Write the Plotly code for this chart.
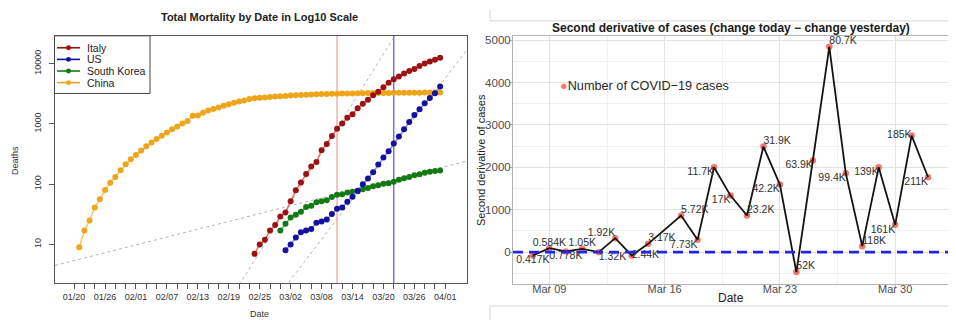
import pandas as pd
import numpy as np
import plotly.graph_objects as go

# ---------------- data: left panel (cumulative deaths, log scale) ----------------
china_start = "2020-01-21"
china_deaths = [9, 17, 25, 41, 56, 80, 106, 132, 170, 213, 259, 304, 361, 425, 490, 563, 636, 722,
                811, 908, 1016, 1113, 1367, 1380, 1523, 1665, 1770, 1868, 2004, 2118, 2236, 2345,
                2442, 2592, 2663, 2715, 2744, 2788, 2835, 2870, 2912, 2943, 2981, 3012, 3042, 3070,
                3097, 3119, 3136, 3158, 3169, 3176, 3189, 3199, 3213, 3226, 3237, 3245, 3248, 3255,
                3261, 3270, 3277, 3281, 3287, 3292, 3295, 3300, 3304, 3305, 3312]
italy_start = "2020-02-24"
italy_deaths = [7, 10, 12, 17, 21, 29, 34, 52, 79, 107, 148, 197, 233, 366, 463, 631, 827, 1016,
                1266, 1441, 1809, 2158, 2503, 2978, 3405, 4032, 4825, 5476, 6077, 6820, 7503, 8165,
                9134, 10023, 10779, 11591, 12428]
us_start = "2020-03-01"
us_deaths = [8, 10, 13, 16, 17, 18, 23, 24, 26, 32, 39, 41, 51, 62, 78, 100, 124, 158, 212, 278,
             352, 472, 615, 812, 1075, 1400, 1750, 2200, 2680, 3220, 4150]
korea_start = "2020-02-29"
korea_deaths = [17, 22, 28, 31, 35, 42, 44, 50, 52, 54, 61, 67, 68, 73, 75, 76, 82, 86, 92, 96, 102,
                104, 110, 118, 125, 131, 140, 146, 155, 161, 165, 169]

event_dates = ["2020-03-11", "2020-03-22"]
# guide lines: anchor date, value at anchor, doubling time (days)
guide_anchor_dates = ["2020-01-20", "2020-02-22", "2020-03-02"]
guide_anchor_values = [5.4, 2.9, 2.6]
guide_doubling_days = [13.9, 2.2, 2.7]

left_tick_dates = list(pd.date_range("2020-01-20", "2020-04-01", freq="2D"))
left_tick_labels = ["01/20", "01/26", "02/01", "02/07", "02/13", "02/19", "02/25",
                    "03/02", "03/08", "03/14", "03/20", "03/26", "04/01"]
log_tick_values = [10, 100, 1000, 10000]

# ---------------- data: right panel (second derivative of cases) ----------------
deriv_dates = ["2020-03-08", "2020-03-09", "2020-03-10", "2020-03-11", "2020-03-12", "2020-03-13",
               "2020-03-14", "2020-03-15", "2020-03-17", "2020-03-18", "2020-03-19", "2020-03-20",
               "2020-03-21", "2020-03-22", "2020-03-23", "2020-03-24", "2020-03-25", "2020-03-26",
               "2020-03-27", "2020-03-28", "2020-03-29", "2020-03-30", "2020-03-31", "2020-04-01"]
deriv_values = [-78, 94, 16, 78, 0, 330, -78, 196, 863, 290, 2000, 1333, 863, 2490, 1592, -470,
                2161, 4843, 1859, 141, 2000, 643, 2749, 1765]
case_labels = ["0.417K", "0.584K", "0.778K", "1.05K", "1.32K", "1.92K", "2.44K", "3.17K", "5.72K",
               "7.73K", "11.7K", "17K", "23.2K", "31.9K", "42.2K", "52K", "63.9K", "80.7K",
               "99.4K", "118K", "139K", "161K", "185K", "211K"]
right_tick_dates = ["2020-03-09", "2020-03-16", "2020-03-23", "2020-03-30"]
right_tick_labels = ["Mar 09", "Mar 16", "Mar 23", "Mar 30"]
zero_level = 0

# ---------------- styling ----------------
# the page body has an 8px margin, so the figure is 8px smaller and all
# positions below are given in window pixels and shifted by that margin
PAGE_MARGIN = 8
W, H = 956 - PAGE_MARGIN, 320 - PAGE_MARGIN
FONT = "Liberation Sans, Arial, sans-serif"


def px(x):
    return (x - PAGE_MARGIN) / W


def py(y):
    return 1 - (y - PAGE_MARGIN) / H


label_positions = ["bottom center", "top center", "bottom center", "top center", "bottom right",
                   "top left", "middle right", "top right", "top right", "bottom left",
                   "bottom left", "bottom left", "top right", "top right", "bottom left",
                   "top right", "bottom left", "top right", "bottom left", "top right",
                   "bottom left", "bottom left", "middle left", "bottom left"]

left_range = [pd.Timestamp("2020-01-16 07:00"), pd.Timestamp("2020-04-05 05:00")]

fig = go.Figure()

# guide lines
for d0, v0, dbl in zip(guide_anchor_dates, guide_anchor_values, guide_doubling_days):
    t0 = pd.Timestamp(d0)
    xs = [left_range[0], left_range[1]]
    ys = [v0 * 2 ** (((x - t0).total_seconds() / 86400.0) / dbl) for x in xs]
    fig.add_trace(go.Scatter(x=xs, y=ys, mode="lines", xaxis="x", yaxis="y",
                             line=dict(color="#b4b4b4", width=1, dash="3px,3px"),
                             showlegend=False, hoverinfo="skip"))

series = [
    ("China", china_start, china_deaths, "#efa51a", "#f6c56a"),
    ("South Korea", korea_start, korea_deaths, "#137a13", "#6ab86a"),
    ("US", us_start, us_deaths, "#12129e", "#8c8cee"),
    ("Italy", italy_start, italy_deaths, "#9c1212", "#e07272"),
]
for name, start, vals, mcol, lcol in series:
    dates = pd.date_range(start, periods=len(vals), freq="D")
    fig.add_trace(go.Scatter(x=dates, y=vals, mode="lines+markers", name=name,
                             xaxis="x", yaxis="y",
                             line=dict(color=lcol, width=1.5),
                             marker=dict(color=mcol, size=6),
                             showlegend=False))

# right panel
fig.add_trace(go.Scatter(x=deriv_dates, y=deriv_values, mode="markers", xaxis="x2", yaxis="y2",
                         marker=dict(color="#F8766D", size=6.5), showlegend=False))
fig.add_trace(go.Scatter(x=deriv_dates, y=deriv_values, mode="lines", xaxis="x2", yaxis="y2",
                         line=dict(color="#141414", width=1.8), showlegend=False))
fig.add_trace(go.Scatter(x=deriv_dates, y=deriv_values, mode="text", xaxis="x2", yaxis="y2",
                         text=case_labels, textposition=label_positions,
                         textfont=dict(family=FONT, size=10.5, color="#303030"),
                         showlegend=False))

shapes = []
# event lines (left)
for d, col in zip(event_dates, ["#f4a3a3", "#5b5bf0"]):
    shapes.append(dict(type="line", xref="x", yref="y domain", x0=d, x1=d, y0=0, y1=1,
                       line=dict(color=col, width=1.3), layer="below"))
# zero line (right)
shapes.append(dict(type="line", xref="x2 domain", yref="y2", x0=0, x1=1, y0=zero_level,
                   y1=zero_level, line=dict(color="#2525e8", width=2.6, dash="10px,6px")))

# manual legend (left)
shapes.append(dict(type="rect", xref="paper", yref="paper", x0=px(54.5), x1=px(150),
                   y0=py(92), y1=py(34), line=dict(color="#444444", width=1),
                   fillcolor="white", layer="above"))
annotations = []
legend_rows = [("Italy", "#9c1212"), ("US", "#12129e"), ("South Korea", "#137a13"),
               ("China", "#efa51a")]
for i, (name, col) in enumerate(legend_rows):
    yy = 46 + i * 11.7
    shapes.append(dict(type="line", xref="paper", yref="paper", x0=px(57), x1=px(80),
                       y0=py(yy), y1=py(yy), line=dict(color=col, width=1.6)))
    shapes.append(dict(type="circle", xref="paper", yref="paper", x0=px(66), x1=px(71),
                       y0=py(yy + 2.5), y1=py(yy - 2.5), fillcolor=col,
                       line=dict(color=col, width=0)))
    annotations.append(dict(text=name, xref="paper", yref="paper", x=px(85), y=py(yy),
                            xanchor="left", yanchor="middle", showarrow=False,
                            font=dict(family=FONT, size=10.5, color="#222222")))

# screenshot frame pieces around the right chart
for (x0, y0, x1, y1) in [(490, 19, 956, 19), (490, 8, 490, 19), (490, 306, 956, 306),
                         (490, 306, 490, 320)]:
    shapes.append(dict(type="line", xref="paper", yref="paper", x0=px(x0), x1=px(x1),
                       y0=py(y0), y1=py(y1), line=dict(color="#d6d6d6", width=1)))

# titles / axis labels
annotations += [
    dict(text="<b>Total Mortality by Date in Log10 Scale</b>", x=px(260), y=py(15),
         font=dict(family=FONT, size=11, color="#222222")),
    dict(text="Date", x=px(260), y=py(314), font=dict(family=FONT, size=9, color="#333333")),
    dict(text="Deaths", x=px(15), y=py(160), textangle=-90,
         font=dict(family=FONT, size=9, color="#333333")),
    dict(text="<b>Second derivative of cases (change today \u2212 change yesterday)</b>",
         x=px(731), y=py(26), font=dict(family=FONT, size=12, color="#1a1a1a")),
    dict(text="Date", x=px(731), y=py(298), font=dict(family=FONT, size=12, color="#222222")),
    dict(text="Second derivative of cases", x=px(481), y=py(159), textangle=-90,
         font=dict(family=FONT, size=11, color="#222222")),
    dict(text="<span style='color:#F8766D'>\u25CF</span>Number of COVID\u221219 cases",
         x=px(558), y=py(84), xanchor="left",
         font=dict(family=FONT, size=12.7, color="#2a2a2a")),
]
for a in annotations[-7:]:
    a.setdefault("xref", "paper")
    a.setdefault("yref", "paper")
    a.setdefault("showarrow", False)
    a.setdefault("xanchor", "center")
    a.setdefault("yanchor", "middle")

left_ticktext = []
for i, d in enumerate(left_tick_dates):
    left_ticktext.append(left_tick_labels[i // 3] if i % 3 == 0 else "")

fig.update_layout(
    width=W, height=H, margin=dict(l=0, r=0, t=0, b=0),
    paper_bgcolor="white", plot_bgcolor="white",
    font=dict(family=FONT),
    shapes=shapes, annotations=annotations,
    xaxis=dict(domain=[px(55), px(467)], anchor="y", type="date", range=left_range,
               tickvals=left_tick_dates, ticktext=left_ticktext, ticks="outside", ticklen=5,
               tickcolor="#555555", showline=True, mirror=True, linecolor="#555555",
               linewidth=1, showgrid=False, zeroline=False,
               tickfont=dict(family=FONT, size=9, color="#333333")),
    yaxis=dict(domain=[py(283), py(34)], anchor="x", type="log", range=[0.357, 4.46],
               tickvals=log_tick_values, ticktext=[str(v) for v in log_tick_values],
               tickangle=-90, ticks="outside", ticklen=5, tickcolor="#555555",
               showline=True, mirror=True, linecolor="#555555", linewidth=1,
               showgrid=False, zeroline=False, ticklabelstandoff=4,
               tickfont=dict(family=FONT, size=9, color="#333333")),
    xaxis2=dict(domain=[px(513), px(948)], anchor="y2", type="date",
                range=["2020-03-06 19:00", "2020-04-02 05:00"],
                tickvals=right_tick_dates, ticktext=right_tick_labels,
                ticks="outside", ticklen=3, tickcolor="#b3b3b3", ticklabelstandoff=-8,
                showline=True, mirror=True, linecolor="#b3b3b3", linewidth=1,
                showgrid=True, gridcolor="#e3e3e3", gridwidth=1, zeroline=False,
                minor=dict(tick0="2020-03-09", dtick=3.5 * 86400000, showgrid=True,
                           gridcolor="#f1f1f1", gridwidth=1),
                tickfont=dict(family=FONT, size=11, color="#4d4d4d")),
    yaxis2=dict(domain=[py(284), py(34)], anchor="x2", range=[-757, 5101],
                tickvals=[0, 1000, 2000, 3000, 4000, 5000],
                ticks="outside", ticklen=3, tickcolor="#b3b3b3", ticklabelstandoff=-4,
                showline=True, mirror=True, linecolor="#b3b3b3", linewidth=1,
                showgrid=True, gridcolor="#e3e3e3", gridwidth=1, zeroline=False,
                minor=dict(dtick=500, showgrid=True, gridcolor="#f1f1f1", gridwidth=1),
                tickfont=dict(family=FONT, size=11.5, color="#4d4d4d")),
)

fig.write_html("out.html")
